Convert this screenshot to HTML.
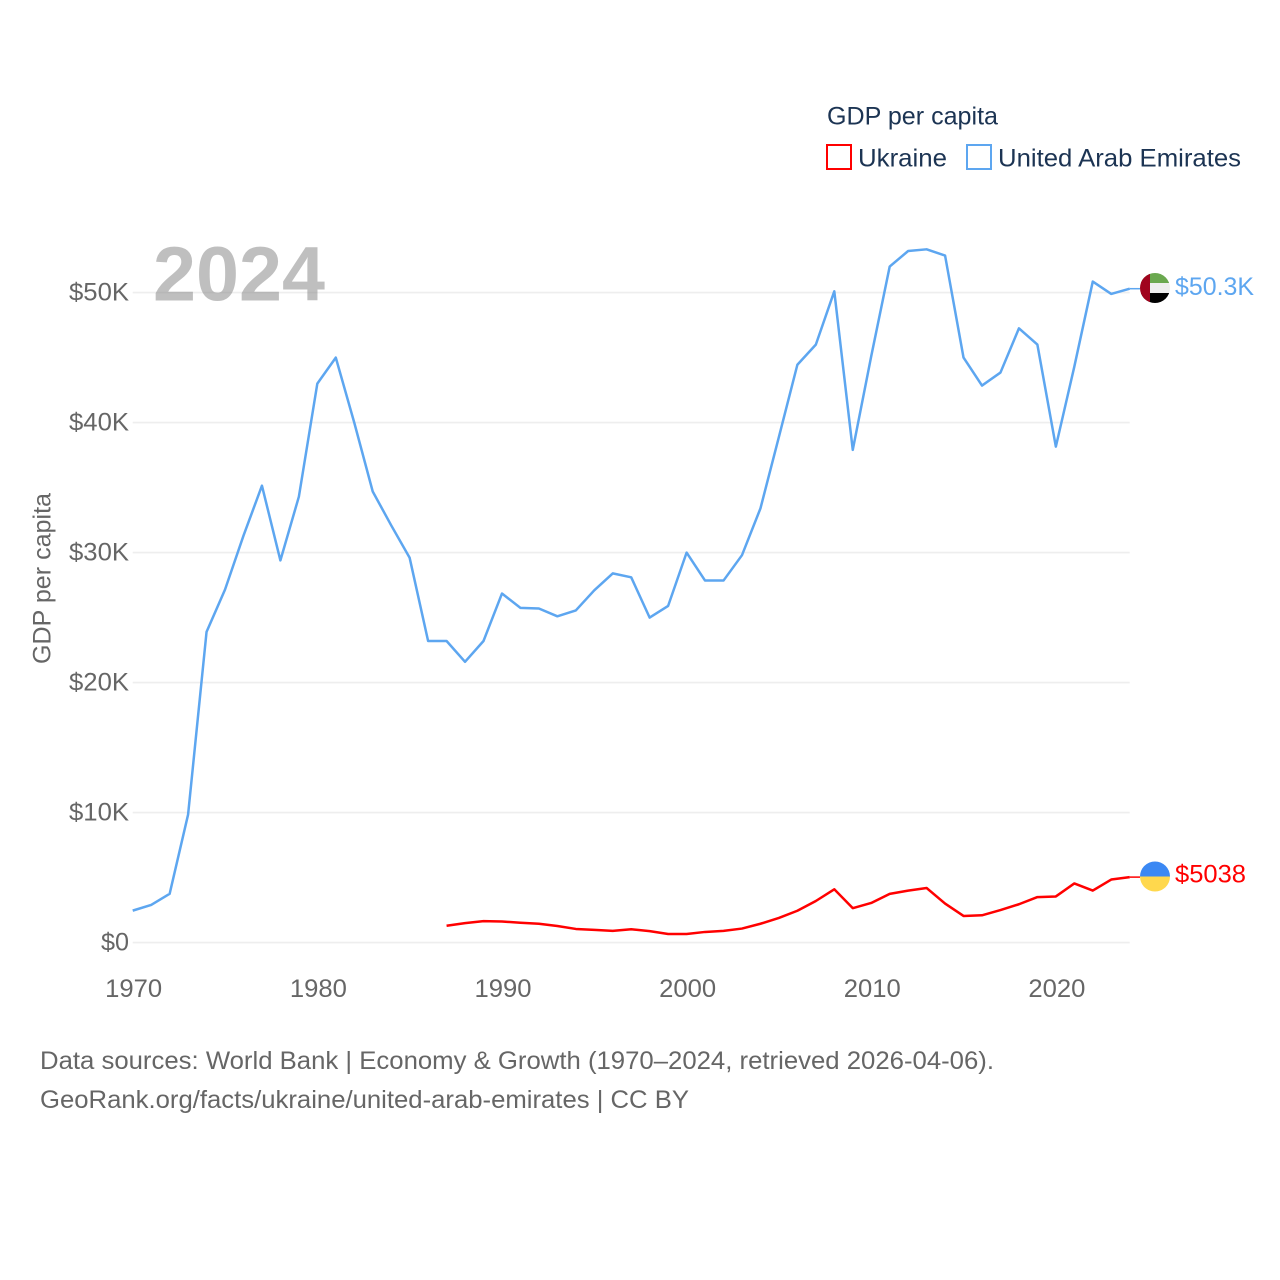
<!DOCTYPE html>
<html lang="en">
<head>
<meta charset="utf-8">
<title>GDP per capita: Ukraine and United Arab Emirates</title>
<style>
html,body{margin:0;padding:0;background:#fff;}
svg{display:block;font-family:"Liberation Sans",sans-serif;}
</style>
</head>
<body>
<svg id="chart" width="1280" height="1280" viewBox="0 0 1280 1280" xmlns="http://www.w3.org/2000/svg">
  <defs>
    <clipPath id="uae-clip"><circle cx="0" cy="0" r="15"></circle></clipPath>
    <clipPath id="ukr-clip"><circle cx="0" cy="0" r="15"></circle></clipPath>
  </defs>
  <g id="grid"></g>
  <text x="153" y="300.5" font-size="77" font-weight="700" fill="#808080" fill-opacity="0.5" textLength="172" lengthAdjust="spacingAndGlyphs">2024</text>
  <g id="y-ticks"></g>
  <g id="x-ticks"></g>
  <text transform="translate(50.5,664) rotate(-90)" font-size="25" fill="#666666" textLength="171" lengthAdjust="spacingAndGlyphs">GDP per capita</text>
  <g id="series"></g>

  <g id="uae-flag">
    <g clip-path="url(#uae-clip)">
      <rect x="-15" y="-15" width="30" height="10" fill="#6aa84f"></rect>
      <rect x="-15" y="-5" width="30" height="10" fill="#eeeeee"></rect>
      <rect x="-15" y="5" width="30" height="10" fill="#000000"></rect>
      <rect x="-15" y="-15" width="10" height="30" fill="#a0041e"></rect>
    </g>
  </g>
  <g id="ukr-flag">
    <g clip-path="url(#ukr-clip)">
      <rect x="-15" y="-15" width="30" height="15" fill="#3b88f3"></rect>
      <rect x="-15" y="0" width="30" height="15" fill="#ffd84d"></rect>
    </g>
  </g>
  <text x="1175" y="295" font-size="25" fill="#5da6f0" textLength="79" lengthAdjust="spacingAndGlyphs">$50.3K</text>
  <text x="1175" y="882.5" font-size="25" fill="#ff0000" textLength="71" lengthAdjust="spacingAndGlyphs">$5038</text>

  <g>
    <text x="827" y="124.5" font-size="25" fill="#1c3453" textLength="171" lengthAdjust="spacingAndGlyphs">GDP per capita</text>
    <rect x="827" y="145" width="24" height="24" fill="none" stroke="#ff0000" stroke-width="2"></rect>
    <text x="858" y="166.5" font-size="25" fill="#1c3453" textLength="89" lengthAdjust="spacingAndGlyphs">Ukraine</text>
    <rect x="967" y="145" width="24" height="24" fill="none" stroke="#5da6f0" stroke-width="2"></rect>
    <text x="998" y="166.5" font-size="25" fill="#1c3453" textLength="243" lengthAdjust="spacingAndGlyphs">United Arab Emirates</text>
  </g>

  <g>
    <text x="40" y="1069" font-size="25" fill="#666666" textLength="954" lengthAdjust="spacingAndGlyphs">Data sources: World Bank | Economy &amp; Growth (1970–2024, retrieved 2026-04-06).</text>
    <text x="40" y="1108" font-size="25" fill="#666666" textLength="649" lengthAdjust="spacingAndGlyphs">GeoRank.org/facts/ukraine/united-arab-emirates | CC BY</text>
  </g>
</svg>
<script>
const yTickValues = [0, 10000, 20000, 30000, 40000, 50000];
const yTickLabels = ["$0", "$10K", "$20K", "$30K", "$40K", "$50K"];
const yTickLabelWidths = [28, 60, 60, 60, 60, 60];
const xTickYears = [1970, 1980, 1990, 2000, 2010, 2020];
const xTickLabels = ["1970", "1980", "1990", "2000", "2010", "2020"];
const uaeStartYear = 1970;
const uaeValues = [2460, 2900, 3750, 9850, 23900, 27150, 31300, 35150, 29400, 34300,
  43000, 45000, 40000, 34700, 32100, 29600, 23200, 23200, 21600, 23200,
  26850, 25750, 25700, 25100, 25550, 27100, 28400, 28100, 25000, 25900,
  30000, 27850, 27850, 29800, 33400, 38900, 44450, 46000, 50100, 37900,
  45100, 52000, 53200, 53330, 52850, 45000, 42850, 43850, 47250, 46000,
  38150, 44300, 50850, 49900, 50300];
const ukraineStartYear = 1987;
const ukraineValues = [1300, 1500, 1650, 1620, 1530, 1450, 1280, 1050, 980, 900,
  1030, 880, 660, 660, 820, 900, 1080, 1450, 1900, 2450,
  3200, 4100, 2650, 3050, 3750, 4000, 4200, 3000, 2050, 2100,
  2500, 2950, 3500, 3550, 4550, 4000, 4850, 5038];

const NS = 'http://www.w3.org/2000/svg';
const xScale = function (year) { return 132.7 + (year - 1970) * (1129.7 - 132.7) / (2024 - 1970); };
const yScale = function (value) { return 942.6 - value * 650 / 50000; };

const gridGroup = document.getElementById('grid');
const yTickGroup = document.getElementById('y-ticks');
const xTickGroup = document.getElementById('x-ticks');
const seriesGroup = document.getElementById('series');

yTickValues.forEach(function (value, i) {
  const line = document.createElementNS(NS, 'line');
  
  
  line.setAttribute('x1', xScale(1970));
  line.setAttribute('x2', xScale(2024));
  line.setAttribute('y1', yScale(value));
  line.setAttribute('y2', yScale(value));
  line.setAttribute('stroke', '#eeeeee');
  line.setAttribute('stroke-width', '1.6');
  gridGroup.appendChild(line);

  const label = document.createElementNS(NS, 'text');
  
  
  label.setAttribute('x', 129);
  label.setAttribute('y', yScale(value) + 8);
  label.setAttribute('text-anchor', 'end');
  label.setAttribute('font-size', '25');
  label.setAttribute('fill', '#666666');
  label.setAttribute('textLength', yTickLabelWidths[i]);
  label.setAttribute('lengthAdjust', 'spacingAndGlyphs');
  label.textContent = yTickLabels[i];
  yTickGroup.appendChild(label);
});

xTickYears.forEach(function (year, i) {
  const label = document.createElementNS(NS, 'text');
  
  
  label.setAttribute('x', xScale(year) + 1);
  label.setAttribute('y', 997);
  label.setAttribute('text-anchor', 'middle');
  label.setAttribute('font-size', '25');
  label.setAttribute('fill', '#666666');
  label.setAttribute('textLength', '57');
  label.setAttribute('lengthAdjust', 'spacingAndGlyphs');
  label.textContent = xTickLabels[i];
  xTickGroup.appendChild(label);
});

function linePoints(values, startYear) {
  return values.map(function (value, i) {
    return xScale(startYear + i).toFixed(2) + ',' + yScale(value).toFixed(2);
  }).join(' ');
}

const uaeLine = document.createElementNS(NS, 'polyline');


uaeLine.setAttribute('points', linePoints(uaeValues, uaeStartYear));
uaeLine.setAttribute('fill', 'none');
uaeLine.setAttribute('stroke', '#5da6f0');
uaeLine.setAttribute('stroke-width', '2.5');
uaeLine.setAttribute('stroke-linejoin', 'round');
seriesGroup.appendChild(uaeLine);

const ukraineLine = document.createElementNS(NS, 'polyline');


ukraineLine.setAttribute('points', linePoints(ukraineValues, ukraineStartYear));
ukraineLine.setAttribute('fill', 'none');
ukraineLine.setAttribute('stroke', '#ff0000');
ukraineLine.setAttribute('stroke-width', '2.5');
ukraineLine.setAttribute('stroke-linejoin', 'round');
seriesGroup.appendChild(ukraineLine);

const uaeEnd = yScale(uaeValues[uaeValues.length - 1]);
const ukraineEnd = yScale(ukraineValues[ukraineValues.length - 1]);

const uaeLeader = document.createElementNS(NS, 'line');


uaeLeader.setAttribute('x1', xScale(2024));
uaeLeader.setAttribute('x2', 1140);
uaeLeader.setAttribute('y1', uaeEnd);
uaeLeader.setAttribute('y2', uaeEnd);
uaeLeader.setAttribute('stroke', '#5da6f0');
uaeLeader.setAttribute('stroke-width', '1.5');
seriesGroup.appendChild(uaeLeader);

const ukraineLeader = document.createElementNS(NS, 'line');


ukraineLeader.setAttribute('x1', xScale(2024));
ukraineLeader.setAttribute('x2', 1140);
ukraineLeader.setAttribute('y1', ukraineEnd);
ukraineLeader.setAttribute('y2', ukraineEnd);
ukraineLeader.setAttribute('stroke', '#ff0000');
ukraineLeader.setAttribute('stroke-width', '1.5');
seriesGroup.appendChild(ukraineLeader);

document.getElementById('uae-flag').setAttribute('transform', 'translate(1155,' + (uaeEnd - 0.7) + ')');
document.getElementById('ukr-flag').setAttribute('transform', 'translate(1155,' + (ukraineEnd - 0.6) + ')');
</script>
</body>
</html>
